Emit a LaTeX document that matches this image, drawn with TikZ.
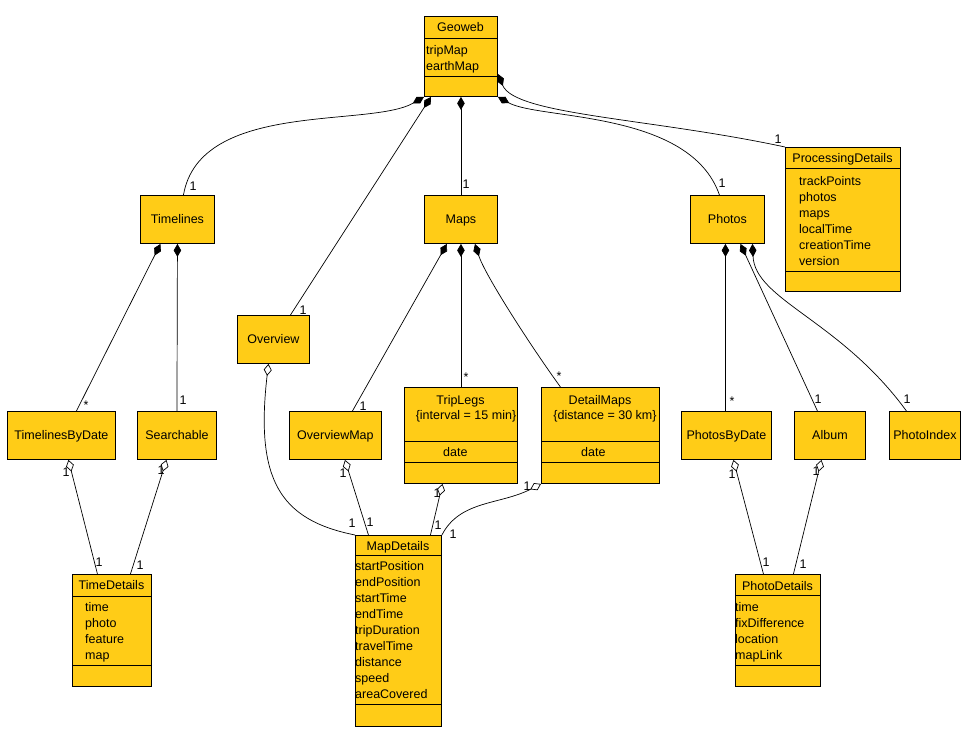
\documentclass[tikz,border=0pt]{standalone}
\usepackage{fontspec}
\setmainfont{Liberation Sans}
\usetikzlibrary{arrows.meta}
\definecolor{umlfill}{RGB}{255,204,23}
\tikzset{
  umlbox/.style={draw, line width=0.9pt, fill=umlfill, inner sep=0pt, anchor=north west,
    text height=8.8pt, text depth=0pt, font=\fontsize{12.5}{16}\selectfont},
  umlname/.style={inner sep=0pt, text height=8.8pt, text depth=0pt, font=\fontsize{12.5}{16}\selectfont},
  umlattr/.style={inner sep=0pt, anchor=north west, align=left, font=\fontsize{12.5}{16}\selectfont},
  mult/.style={inner sep=0pt, text height=8.8pt, text depth=0pt, font=\fontsize{12.5}{16}\selectfont},
  sep/.style={line width=0.9pt},
  comp/.style={line width=0.7pt, {Diamond[length=13pt,width=7.5pt]}-},
  aggr/.style={line width=0.7pt, {Diamond[open,length=12pt,width=8pt]}-}
}
\begin{document}
\begin{tikzpicture}[x=1pt,y=-1pt]
\path[fill=white] (0,0) rectangle (967,743);
\useasboundingbox (0,0) rectangle (967,743);

% classes
\node[umlbox, minimum width=73pt, minimum height=80pt] (geoweb) at (424,16) {};
\node[umlname] (geowebN) at (460.5,27) {Geoweb};
\node[umlattr] (geowebA) at (426,45) {tripMap\\earthMap};
\draw[sep] (geoweb.west |- 0,38) -- (geoweb.east |- 0,38);
\draw[sep] (geoweb.west |- 0,76) -- (geoweb.east |- 0,76);

\node[umlbox, minimum width=74pt, minimum height=48pt] (timelines) at (140,195) {Timelines};
\node[umlbox, minimum width=73pt, minimum height=48pt] (maps) at (424,195) {Maps};
\node[umlbox, minimum width=74pt, minimum height=48pt] (photos) at (690,195) {Photos};

\node[umlbox, minimum width=115pt, minimum height=144pt] (procdetails) at (785,147) {};
\node[umlname] (procdetailsN) at (842.5,158) {ProcessingDetails};
\node[umlattr] (procdetailsA) at (799,176) {trackPoints\\photos\\maps\\localTime\\creationTime\\version};
\draw[sep] (procdetails.west |- 0,168) -- (procdetails.east |- 0,168);
\draw[sep] (procdetails.west |- 0,271) -- (procdetails.east |- 0,271);

\node[umlbox, minimum width=72pt, minimum height=48pt] (overview) at (237,315) {Overview};
\node[umlbox, minimum width=108pt, minimum height=48pt] (tlbydate) at (7,411) {TimelinesByDate};
\node[umlbox, minimum width=79pt, minimum height=48pt] (searchable) at (137,411) {Searchable};
\node[umlbox, minimum width=92pt, minimum height=48pt] (overviewmap) at (289,411) {OverviewMap};

\node[umlbox, minimum width=113pt, minimum height=96pt] (triplegs) at (404,387) {};
\node[umlname] (triplegsN) at (460.5,400) {TripLegs};
\node[umlname] (triplegsC) at (466,415) {\{interval = 15 min\}};
\node[umlattr] (triplegsA) at (443,447) {date};
\draw[sep] (triplegs.west |- 0,441) -- (triplegs.east |- 0,441);
\draw[sep] (triplegs.west |- 0,462) -- (triplegs.east |- 0,462);

\node[umlbox, minimum width=118pt, minimum height=96pt] (detailmaps) at (541,387) {};
\node[umlname] (detailmapsN) at (600,400) {DetailMaps};
\node[umlname] (detailmapsC) at (605,415) {\{distance = 30 km\}};
\node[umlattr] (detailmapsA) at (581,447) {date};
\draw[sep] (detailmaps.west |- 0,441) -- (detailmaps.east |- 0,441);
\draw[sep] (detailmaps.west |- 0,462) -- (detailmaps.east |- 0,462);

\node[umlbox, minimum width=90pt, minimum height=48pt] (photosbydate) at (681,411) {PhotosByDate};
\node[umlbox, minimum width=71pt, minimum height=48pt] (album) at (794,411) {Album};
\node[umlbox, minimum width=71pt, minimum height=48pt] (photoindex) at (889,411) {PhotoIndex};

\node[umlbox, minimum width=79pt, minimum height=112pt] (timedetails) at (72,574) {};
\node[umlname] (timedetailsN) at (111.5,585) {TimeDetails};
\node[umlattr] (timedetailsA) at (85,602) {time\\photo\\feature\\map};
\draw[sep] (timedetails.west |- 0,596) -- (timedetails.east |- 0,596);
\draw[sep] (timedetails.west |- 0,665) -- (timedetails.east |- 0,665);

\node[umlbox, minimum width=86pt, minimum height=191pt] (mapdetails) at (355,535) {};
\node[umlname] (mapdetailsN) at (398,546) {MapDetails};
\node[umlattr] (mapdetailsA) at (355,561.5) {startPosition\\endPosition\\startTime\\endTime\\tripDuration\\travelTime\\distance\\speed\\areaCovered};
\draw[sep] (mapdetails.west |- 0,555) -- (mapdetails.east |- 0,555);
\draw[sep] (mapdetails.west |- 0,704) -- (mapdetails.east |- 0,704);

\node[umlbox, minimum width=85pt, minimum height=112pt] (photodetails) at (735,574) {};
\node[umlname] (photodetailsN) at (777.5,586) {PhotoDetails};
\node[umlattr] (photodetailsA) at (735,602) {time\\fixDifference\\location\\mapLink};
\draw[sep] (photodetails.west |- 0,595) -- (photodetails.east |- 0,595);
\draw[sep] (photodetails.west |- 0,665) -- (photodetails.east |- 0,665);

% compositions
\draw[comp] (geoweb.south west) .. controls (370,128) and (200,100) .. ([xshift=6pt]timelines.north);
\draw[comp] ([xshift=7pt]geoweb.south west) -- ([xshift=17pt]overview.north);
\draw[comp] (geoweb.south) -- (maps.north);
\draw[comp] (geoweb.south east) .. controls (540,120) and (690,110) .. ([xshift=-8pt]photos.north);
\draw[comp] ([yshift=23pt]geoweb.south east) .. controls (515,115) and (650,118) .. (procdetails.north west);
\draw[comp] ([xshift=-17pt]timelines.south) -- ([xshift=15pt]tlbydate.north);
\draw[comp] (timelines.south) -- (searchable.north);
\draw[comp] ([xshift=-14pt]maps.south) -- ([xshift=17pt]overviewmap.north);
\draw[comp] (maps.south) -- (triplegs.north);
\draw[comp] ([xshift=14pt]maps.south) .. controls (485,275) and (530,345) .. ([xshift=-40pt]detailmaps.north);
\draw[comp] ([xshift=-2pt]photos.south) -- ([xshift=-1pt]photosbydate.north);
\draw[comp] ([xshift=13pt]photos.south) -- ([xshift=-12.5pt]album.north);
\draw[comp] ([xshift=25pt]photos.south) .. controls (755,300) and (840,320) .. ([xshift=-18.5pt]photoindex.north);

% aggregations
\draw[aggr] ([xshift=7pt]tlbydate.south) -- ([xshift=-14.5pt]timedetails.north);
\draw[aggr] ([xshift=-10.5pt]searchable.south) -- ([xshift=18.5pt]timedetails.north);
\draw[aggr] ([xshift=-5pt]overview.south) .. controls (255,480) and (280,520) .. (mapdetails.north west);
\draw[aggr] ([xshift=9.5pt]overviewmap.south) -- ([xshift=-30pt]mapdetails.north);
\draw[aggr] ([xshift=-18.5pt]triplegs.south) -- ([xshift=32pt]mapdetails.north);
\draw[aggr] (detailmaps.south west) .. controls (500,505) and (460,500) .. (mapdetails.north east);
\draw[aggr] ([xshift=7pt]photosbydate.south) -- ([xshift=-14.5pt]photodetails.north);
\draw[aggr] ([xshift=-8.5pt]album.south) -- ([xshift=15.5pt]photodetails.north);

% multiplicities
\node[mult] (mTimelines) at (193,186) {1};
\node[mult] (mOverview) at (303,310) {1};
\node[mult] (mMaps) at (466,184) {1};
\node[mult] (mPhotos) at (722,183) {1};
\node[mult] (mProc) at (778,139) {1};
\node[mult] (mTlByDate) at (86,405) {*};
\node[mult] (mSearchable) at (183,400) {1};
\node[mult] (mOverviewMap) at (363,406) {1};
\node[mult] (mTripLegs) at (466,377) {*};
\node[mult] (mDetailMaps) at (559,376) {*};
\node[mult] (mPhotosByDate) at (732,401) {*};
\node[mult] (mAlbum) at (818,399) {1};
\node[mult] (mPhotoIndex) at (907,399) {1};
\node[mult] (mTlByDateB) at (66,472) {1};
\node[mult] (mSearchableB) at (161,470) {1};
\node[mult] (mTimeDetL) at (99,562) {1};
\node[mult] (mTimeDetR) at (140,565) {1};
\node[mult] (mOverviewMapB) at (343,473) {1};
\node[mult] (mTripLegsB) at (437,493) {1};
\node[mult] (mDetailMapsB) at (527,486) {1};
\node[mult] (mMapDet1) at (352,523) {1};
\node[mult] (mMapDet2) at (370,522) {1};
\node[mult] (mMapDet3) at (438,525) {1};
\node[mult] (mMapDet4) at (453,534) {1};
\node[mult] (mPhotosByDateB) at (732,474) {1};
\node[mult] (mAlbumB) at (816,471) {1};
\node[mult] (mPhotoDetL) at (766,562) {1};
\node[mult] (mPhotoDetR) at (803,564) {1};
\end{tikzpicture}
\end{document}
